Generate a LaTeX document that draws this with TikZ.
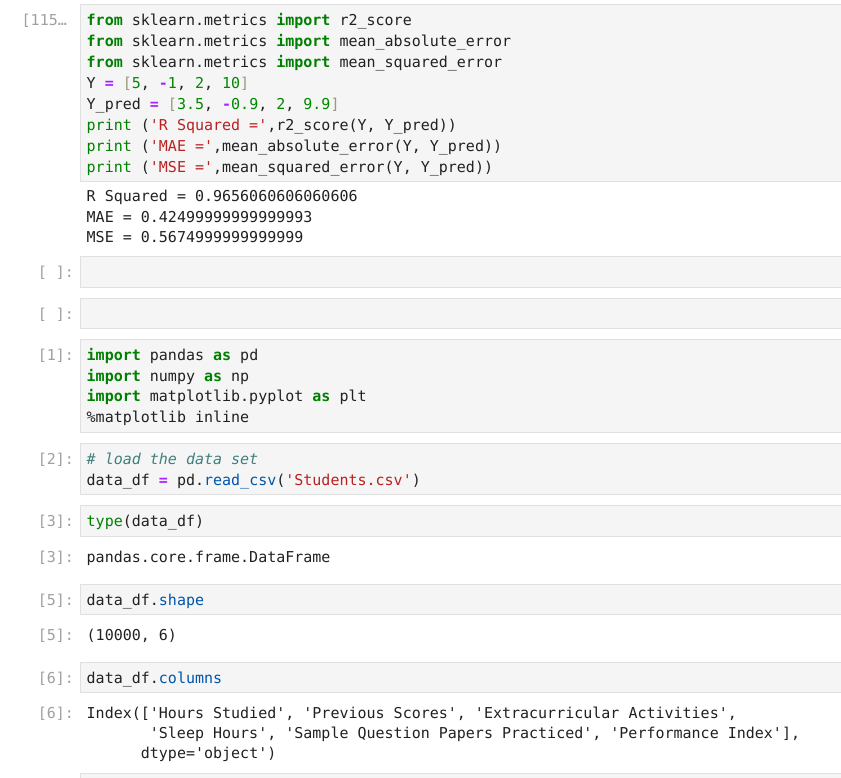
\documentclass[tikz,border=0pt]{standalone}
\usepackage{fontspec}
\setmonofont{DejaVu Sans Mono}
\usepackage{tikz}
\usetikzlibrary{positioning,calc}

\definecolor{kwgreen}{HTML}{008000}
\definecolor{oppurple}{HTML}{AA22FF}
\definecolor{numgreen}{HTML}{008800}
\definecolor{strred}{HTML}{BA2121}
\definecolor{brkolive}{HTML}{999977}
\definecolor{propblue}{HTML}{0055AA}
\definecolor{cmtteal}{HTML}{408080}
\definecolor{codeink}{HTML}{212121}
\definecolor{promptgray}{HTML}{A0A0A0}
\definecolor{cellfill}{HTML}{F5F5F5}
\definecolor{celledge}{HTML}{E0E0E0}

\newcommand{\kw}[1]{\textcolor{kwgreen}{\bfseries #1}}
\newcommand{\op}[1]{\textcolor{oppurple}{\bfseries #1}}
\newcommand{\nm}[1]{\textcolor{numgreen}{#1}}
\newcommand{\strg}[1]{\textcolor{strred}{#1}}
\newcommand{\brak}[1]{\textcolor{brkolive}{#1}}
\newcommand{\bi}[1]{\textcolor{kwgreen}{#1}}
\newcommand{\prop}[1]{\textcolor{propblue}{#1}}
\newcommand{\cmt}[1]{\textcolor{cmtteal}{\itshape #1}}

\begin{document}
\begin{tikzpicture}[x=1pt, y=-1pt]
\tikzstyle{cellbox}=[fill=cellfill,draw=celledge,line width=1pt]
\tikzstyle{codeline}=[anchor=base west,inner sep=0pt,text=codeink,font=\ttfamily\fontsize{15}{21}\selectfont]
\tikzstyle{prompt}=[anchor=base east,inner sep=0pt,text=promptgray,font=\ttfamily\fontsize{15}{21}\selectfont]
\useasboundingbox[fill=white] (0,0) rectangle (841,777);

\draw[cellbox] (80.5,4.5) rectangle (860,181);
\draw[cellbox] (80.5,256.5) rectangle (860,287);
\draw[cellbox] (80.5,298.5) rectangle (860,328.5);
\draw[cellbox] (80.5,339.5) rectangle (860,432);
\draw[cellbox] (80.5,443.5) rectangle (860,494);
\draw[cellbox] (80.5,505.5) rectangle (860,536);
\draw[cellbox] (80.5,584.5) rectangle (860,614);
\draw[cellbox] (80.5,662.5) rectangle (860,692);
\draw[cellbox] (80.5,773.5) rectangle (860,790);

\node[prompt,anchor=base west] (p115) at (21.5,25) {[115…};
\node[codeline] (a1) at (86.5,25)  {\kw{from} sklearn.metrics \kw{import} r2\_score};
\node[codeline] (a2) at (86.5,46)  {\kw{from} sklearn.metrics \kw{import} mean\_absolute\_error};
\node[codeline] (a3) at (86.5,67)  {\kw{from} sklearn.metrics \kw{import} mean\_squared\_error};
\node[codeline] (a4) at (86.5,88)  {Y \op{=} \brak{[}\nm{5}, \op{-}\nm{1}, \nm{2}, \nm{10}\brak{]}};
\node[codeline] (a5) at (86.5,109) {Y\_pred \op{=} \brak{[}\nm{3.5}, \op{-}\nm{0.9}, \nm{2}, \nm{9.9}\brak{]}};
\node[codeline] (a6) at (86.5,130) {\bi{print} (\strg{'R Squared ='},r2\_score(Y, Y\_pred))};
\node[codeline] (a7) at (86.5,151) {\bi{print} (\strg{'MAE ='},mean\_absolute\_error(Y, Y\_pred))};
\node[codeline] (a8) at (86.5,172) {\bi{print} (\strg{'MSE ='},mean\_squared\_error(Y, Y\_pred))};
\node[codeline] (o1) at (86.5,201.5) {R Squared = 0.9656060606060606};
\node[codeline] (o2) at (86.5,222)   {MAE = 0.42499999999999993};
\node[codeline] (o3) at (86.5,242.5) {MSE = 0.5674999999999999};

\node[prompt] (pe1) at (74.2,277.5) {[ ]:};
\node[prompt] (pe2) at (74.2,319.5) {[ ]:};

\node[prompt] (p1) at (74.2,360) {[1]:};
\node[codeline] (b1) at (86.5,360)   {\kw{import} pandas \kw{as} pd};
\node[codeline] (b2) at (86.5,381)   {\kw{import} numpy \kw{as} np};
\node[codeline] (b3) at (86.5,401.5) {\kw{import} matplotlib.pyplot \kw{as} plt};
\node[codeline] (b4) at (86.5,422)   {\%matplotlib inline};

\node[prompt] (p2) at (74.2,464.5) {[2]:};
\node[codeline] (c1) at (86.5,464.5) {\cmt{\# load the data set}};
\node[codeline] (c2) at (86.5,485)   {data\_df \op{=} pd.\prop{read\_csv}(\strg{'Students.csv'})};

\node[prompt] (p3) at (74.2,526.5) {[3]:};
\node[codeline] (d1) at (86.5,526.5) {\bi{type}(data\_df)};
\node[prompt] (q3) at (74.2,562.5) {[3]:};
\node[codeline] (d2) at (86.5,562.5) {pandas.core.frame.DataFrame};

\node[prompt] (p5) at (74.2,605.5) {[5]:};
\node[codeline] (e1) at (86.5,605.5) {data\_df.\prop{shape}};
\node[prompt] (q5) at (74.2,640) {[5]:};
\node[codeline] (e2) at (86.5,640) {(10000, 6)};

\node[prompt] (p6) at (74.2,683.5) {[6]:};
\node[codeline] (f1) at (86.5,683.5) {data\_df.\prop{columns}};
\node[prompt] (q6) at (74.2,718) {[6]:};
\node[codeline] (f2) at (86.5,718)   {Index(['Hours Studied', 'Previous Scores', 'Extracurricular Activities',};
\node[codeline] (f3) at (149.7,738.5) {'Sleep Hours', 'Sample Question Papers Practiced', 'Performance Index'],};
\node[codeline] (f4) at (140.7,758.5) {dtype='object')};
\end{tikzpicture}
\end{document}
